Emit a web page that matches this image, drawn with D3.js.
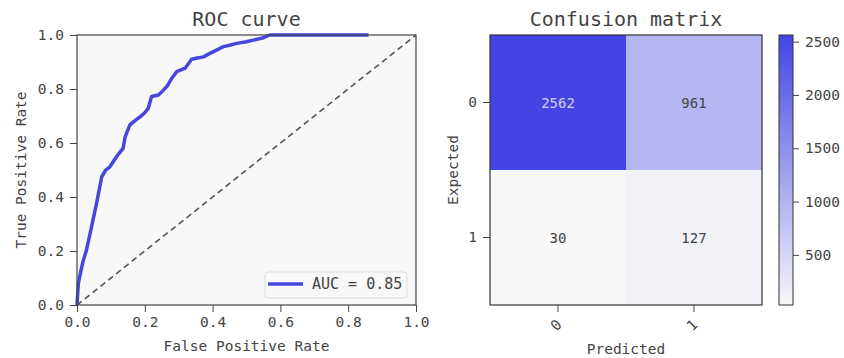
<!DOCTYPE html>
<html>
<head>
<meta charset="utf-8">
<script src="https://cdn.jsdelivr.net/npm/d3@7"></script>
<style>
    body { margin: 0; background: #fff; }
    svg text { font-family: "DejaVu Sans Mono", monospace; fill: #444; }
</style>
</head>
<body>
<div id="chart"></div>
<script>
// ROC curve points
const fpr = [0, 0.004, 0.012, 0.019, 0.028, 0.036, 0.043, 0.058, 0.073, 0.085, 0.097, 0.117, 0.127, 0.136, 0.142, 0.156, 0.172, 0.186, 0.2, 0.21, 0.22, 0.24, 0.252, 0.265, 0.28, 0.294, 0.319, 0.338, 0.355, 0.373, 0.392, 0.41, 0.432, 0.45, 0.471, 0.5, 0.52, 0.55, 0.569, 0.62, 0.7, 0.78, 0.86];
const tpr = [0, 0.08, 0.13, 0.167, 0.204, 0.25, 0.29, 0.378, 0.475, 0.5, 0.512, 0.55, 0.566, 0.58, 0.623, 0.667, 0.684, 0.697, 0.712, 0.728, 0.772, 0.778, 0.792, 0.809, 0.84, 0.864, 0.877, 0.91, 0.915, 0.919, 0.932, 0.943, 0.957, 0.962, 0.969, 0.975, 0.981, 0.99, 1.0, 1.0, 1.0, 1.0, 1.0];
const aucLabel = 'AUC = 0.85';
const rocTicks = [0, 0.2, 0.4, 0.6, 0.8, 1.0];

// confusion matrix
const classes = ['0', '1'];
const cmValues = [[2562, 961], [30, 127]];
const cbarTicks = [500, 1000, 1500, 2000, 2500];

const width = 844, height = 358;
const svg = d3.select('#chart').append('svg')
    .attr('width', width)
    .attr('height', height);

const rocBox = { left: 77, right: 416, top: 35, bottom: 305 };
const x = d3.scaleLinear().domain([0, 1]).range([rocBox.left, rocBox.right]);
const y = d3.scaleLinear().domain([0, 1]).range([rocBox.bottom, rocBox.top]);

// plot background
svg.append('rect')
    .attr('x', rocBox.left).attr('y', rocBox.top)
    .attr('width', rocBox.right - rocBox.left)
    .attr('height', rocBox.bottom - rocBox.top)
    .attr('fill', '#f8f8f8');

// diagonal
svg.append('line')
    .attr('x1', x(0)).attr('y1', y(0))
    .attr('x2', x(1)).attr('y2', y(1))
    .attr('stroke', '#555')
    .attr('stroke-width', 1.6)
    .attr('stroke-dasharray', '6,4');

const rocData = fpr.map((f, i) => ({ x: f, y: tpr[i] }));
const line = d3.line().x(d => x(d.x)).y(d => y(d.y));
svg.append('path')
    .datum(rocData)
    .attr('fill', 'none')
    .attr('stroke', '#4747dc')
    .attr('stroke-width', 3.5)
    .attr('stroke-linejoin', 'round')
    .attr('d', line);

// axes
function styleAxis(g) {
    g.select('.domain').remove();
    g.selectAll('.tick line').attr('stroke', '#444');
    g.selectAll('.tick text').style('font-size', '14.5px').attr('fill', '#444');
}
svg.append('g')
    .attr('transform', `translate(0,${rocBox.bottom})`)
    .call(d3.axisBottom(x).tickValues(rocTicks).tickFormat(d3.format('.1f')).tickSize(7).tickPadding(5))
    .call(styleAxis);
svg.append('g')
    .attr('transform', `translate(${rocBox.left},0)`)
    .call(d3.axisLeft(y).tickValues(rocTicks).tickFormat(d3.format('.1f')).tickSize(7).tickPadding(6))
    .call(styleAxis);

svg.append('rect')
    .attr('x', rocBox.left).attr('y', rocBox.top)
    .attr('width', rocBox.right - rocBox.left)
    .attr('height', rocBox.bottom - rocBox.top)
    .attr('fill', 'none')
    .attr('stroke', '#444')
    .attr('stroke-width', 1.2);

// legend
const leg = svg.append('g').attr('transform', 'translate(265,272)');
leg.append('rect')
    .attr('width', 142).attr('height', 26).attr('rx', 3)
    .attr('fill', '#f8f8f8').attr('stroke', '#ddd');
leg.append('line')
    .attr('x1', 3).attr('x2', 38).attr('y1', 12).attr('y2', 12)
    .attr('stroke', '#4747dc').attr('stroke-width', 3.5);
leg.append('text')
    .attr('x', 47).attr('y', 17)
    .style('font-size', '15px')
    .text(aucLabel);

// titles & labels
svg.append('text')
    .attr('x', (rocBox.left + rocBox.right) / 2).attr('y', 26)
    .attr('text-anchor', 'middle').style('font-size', '20px')
    .text('ROC curve');
svg.append('text')
    .attr('x', (rocBox.left + rocBox.right) / 2).attr('y', 351)
    .attr('text-anchor', 'middle').style('font-size', '14.5px')
    .text('False Positive Rate');
svg.append('text')
    .attr('transform', `translate(26,${(rocBox.top + rocBox.bottom) / 2}) rotate(-90)`)
    .attr('text-anchor', 'middle').style('font-size', '14.5px')
    .text('True Positive Rate');

// confusion matrix
const cmBox = { left: 490, right: 762, top: 35, bottom: 305 };
const cx = d3.scaleBand().domain(classes).range([cmBox.left, cmBox.right]);
const cy = d3.scaleBand().domain(classes).range([cmBox.top, cmBox.bottom]);
const allVals = cmValues.flat();
const vmin = d3.min(allVals), vmax = d3.max(allVals);
const color = d3.scaleLinear().domain([vmin, vmax]).range(['#f7f7f8', '#4444e4']);

const cells = [];
classes.forEach((r, i) => classes.forEach((c, j) => cells.push({ r, c, v: cmValues[i][j] })));

svg.selectAll('rect.cell').data(cells).enter().append('rect')
    .attr('class', 'cell')
    .attr('x', d => cx(d.c)).attr('y', d => cy(d.r))
    .attr('width', cx.bandwidth()).attr('height', cy.bandwidth())
    .attr('fill', d => color(d.v));

svg.selectAll('text.cellv').data(cells).enter().append('text')
    .attr('class', 'cellv')
    .attr('x', d => cx(d.c) + cx.bandwidth() / 2)
    .attr('y', d => cy(d.r) + cy.bandwidth() / 2 + 5)
    .attr('text-anchor', 'middle')
    .style('font-size', '14px')
    .style('fill', d => d.v > (vmin + vmax) / 2 ? '#cfcff5' : '#444')
    .text(d => d.v);

svg.append('rect')
    .attr('x', cmBox.left).attr('y', cmBox.top)
    .attr('width', cmBox.right - cmBox.left)
    .attr('height', cmBox.bottom - cmBox.top)
    .attr('fill', 'none').attr('stroke', '#333').attr('stroke-width', 1.2);

const cmX = svg.append('g')
    .attr('transform', `translate(0,${cmBox.bottom})`)
    .call(d3.axisBottom(cx).tickSize(7).tickPadding(6))
    .call(styleAxis);
cmX.selectAll('.tick text')
    .attr('text-anchor', 'middle')
    .attr('y', 0).attr('dy', '0.35em')
    .attr('transform', 'translate(-2,20) rotate(-45)');
svg.append('g')
    .attr('transform', `translate(${cmBox.left},0)`)
    .call(d3.axisLeft(cy).tickSize(7).tickPadding(6))
    .call(styleAxis);

svg.append('text')
    .attr('x', (cmBox.left + cmBox.right) / 2).attr('y', 26)
    .attr('text-anchor', 'middle').style('font-size', '20px')
    .text('Confusion matrix');
svg.append('text')
    .attr('x', (cmBox.left + cmBox.right) / 2).attr('y', 354)
    .attr('text-anchor', 'middle').style('font-size', '14.5px')
    .text('Predicted');
svg.append('text')
    .attr('transform', `translate(458,${(cmBox.top + cmBox.bottom) / 2}) rotate(-90)`)
    .attr('text-anchor', 'middle').style('font-size', '14.5px')
    .text('Expected');

// colorbar
const cb = { left: 779, right: 793 };
const cbY = d3.scaleLinear().domain([vmin, vmax]).range([cmBox.bottom, cmBox.top]);
const defs = svg.append('defs');
const grad = defs.append('linearGradient')
    .attr('id', 'cbgrad').attr('x1', 0).attr('y1', 1).attr('x2', 0).attr('y2', 0);
grad.append('stop').attr('offset', '0%').attr('stop-color', color(vmin));
grad.append('stop').attr('offset', '100%').attr('stop-color', color(vmax));
svg.append('rect')
    .attr('x', cb.left).attr('y', cmBox.top)
    .attr('width', cb.right - cb.left).attr('height', cmBox.bottom - cmBox.top)
    .attr('fill', 'url(#cbgrad)')
    .attr('stroke', '#333').attr('stroke-width', 1);
svg.append('g')
    .attr('transform', `translate(${cb.right},0)`)
    .call(d3.axisRight(cbY).tickValues(cbarTicks).tickFormat(d3.format('d')).tickSize(6).tickPadding(6))
    .call(styleAxis);
</script>
</body>
</html>
